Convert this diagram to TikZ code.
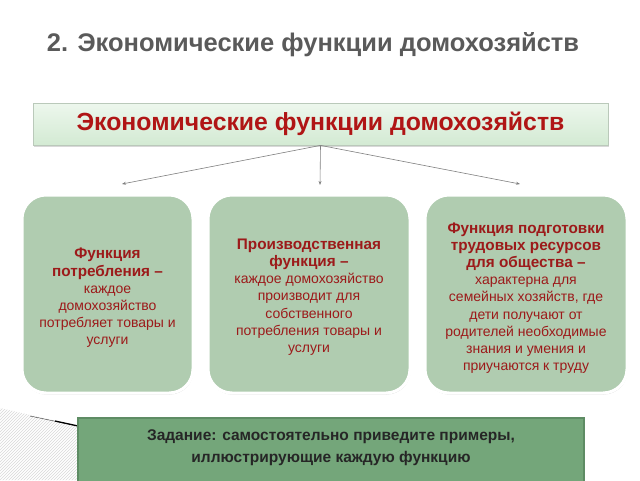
\documentclass[tikz,border=0pt]{standalone}
\usepackage{fontspec}
\setmainfont{Liberation Sans}
\usetikzlibrary{patterns,shadows,arrows.meta}
\definecolor{titlegray}{HTML}{5A5A5A}
\definecolor{hdred}{HTML}{B01515}
\definecolor{txred}{HTML}{9C1A1A}
\definecolor{sage}{HTML}{B0CCB0}
\definecolor{sageedge}{HTML}{C9DCC9}
\definecolor{taskgreen}{HTML}{74A67A}
\definecolor{taskedge}{HTML}{5E8C64}
\definecolor{hdtop}{HTML}{EDF7ED}
\definecolor{hdbot}{HTML}{D3EAD3}
\newcommand{\hb}[1]{{\bfseries\fontsize{15.3}{18.5}\selectfont #1}}
\tikzset{
  funcbox/.style={draw=white, line width=3pt, fill=sage, rounded corners=24pt,
    drop shadow={shadow xshift=0.5pt, shadow yshift=-1.5pt, opacity=0.35, fill=gray}},
  functext/.style={text=txred, align=center, font=\fontsize{14}{17.2}\selectfont},
  conn/.style={draw=gray, line width=0.6pt, -{Stealth[length=4pt,width=3pt]}},
}
\begin{document}
\begin{tikzpicture}[x=1pt,y=-1pt]
\useasboundingbox (0,0) rectangle (640,480);
\fill[white] (0,0) rectangle (640,480);
% hatched corner
\fill[pattern={north east lines}, pattern color=gray!30] (0,408) -- (78,426) -- (78,480) -- (0,480) -- cycle;
\draw[black!80, line width=0.4pt] (30,416) -- (78,426);
\draw[black, line width=1.3pt] (55,421) -- (78,426);
% title
\node[text=titlegray, font=\bfseries\fontsize{25.5}{30}\selectfont] (title) at (313,45) {2. Экономические функции домохозяйств};
% header box
\node[draw=sageedge!80!gray, line width=0.8pt, top color=hdtop, bottom color=hdbot,
  minimum width=575pt, minimum height=42pt, inner sep=0pt,
  drop shadow={shadow xshift=1pt, shadow yshift=-2pt, opacity=0.3, fill=gray},
  text=hdred, font=\bfseries\fontsize{24.8}{28}\selectfont] (head) at (320.5,124) {Экономические функции домохозяйств};
\coordinate (a1) at (122,184);
\coordinate (a2) at (320,185);
\coordinate (a3) at (520,184);
\draw[conn] (head.south) -- (a1);
\draw[conn] (head.south) -- (a2);
\draw[conn] (head.south) -- (a3);
% function boxes
\draw[funcbox] (22,195) rectangle (193,393);
\draw[funcbox] (208,195) rectangle (410,393);
\draw[funcbox] (425,195) rectangle (627,393);
\node[functext] (f1) at (107.5,298) {\hb{Функция}\\\hb{потребления –}\\каждое\\домохозяйство\\потребляет товары и\\услуги};
\node[functext] (f2) at (309,297) {\hb{Производственная}\\\hb{функция –}\\каждое домохозяйство\\производит для\\собственного\\потребления товары и\\услуги};
\node[functext] (f3) at (526,298) {\hb{Функция подготовки}\\\hb{трудовых ресурсов}\\\hb{для общества –}\\характерна для\\семейных хозяйств, где\\дети получают от\\родителей необходимые\\знания и умения и\\приучаются к труду};
% task box
\draw[draw=taskedge, line width=1.2pt, fill=taskgreen] (78,418) rectangle (584,482);
\node[align=center, text=black!85, font=\bfseries\fontsize{15.5}{22}\selectfont] (task) at (331,448) {Задание: самостоятельно приведите примеры,\\иллюстрирующие каждую функцию};
\end{tikzpicture}
\end{document}
